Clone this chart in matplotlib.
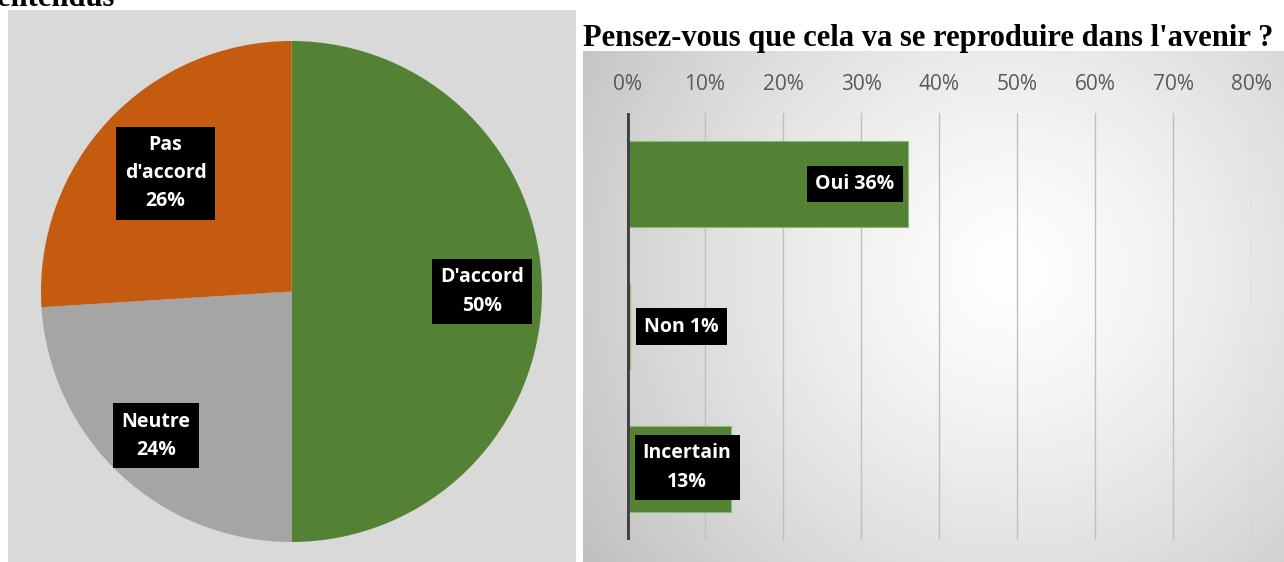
import numpy as np
import matplotlib.pyplot as plt

# données du camembert
pie_labels = ["D'accord", "Neutre", "Pas\nd'accord"]
pie_values = [50, 24, 26]
pie_colors = ["#548235", "#A5A5A5", "#C55A11"]

# données des barres
bar_labels = ["Oui", "Non", "Incertain"]
bar_values = [36.0, 0.4, 13.3]
bar_texts = ["36%", "1%", "13%"]
ticks = [0, 10, 20, 30, 40, 50, 60, 70, 80]

W, H = 1284, 562
fig = plt.figure(figsize=(W / 100, H / 100), dpi=100)
fig.patch.set_facecolor("white")


def rect(x0, y0, x1, y1):
    # pixels (origine en haut à gauche) -> fraction de figure
    return [x0 / W, 1 - y1 / H, (x1 - x0) / W, (y1 - y0) / H]


# fond gris du panneau gauche
bg = fig.add_axes(rect(8, 10, 576, 562))
bg.set_facecolor("#D9D9D9")
bg.set_xticks([])
bg.set_yticks([])
for s in bg.spines.values():
    s.set_visible(False)

# camembert
ax1 = fig.add_axes(rect(41, 41, 542, 542))
wedges, _ = ax1.pie(pie_values, colors=pie_colors, startangle=90,
                    counterclock=False, radius=1,
                    wedgeprops=dict(linewidth=0))
ax1.set_xlim(-1, 1)
ax1.set_ylim(-1, 1)
ax1.set_aspect("equal")

box = dict(boxstyle="square,pad=0.42", fc="black", ec="none")
txt = dict(color="white", fontsize=14, fontweight="bold", family="Open Sans",
           va="center", ha="center", zorder=5, linespacing=1.55)

# distance au centre des étiquettes (fraction du rayon)
lab_r = [0.76, 0.79, 0.69]
for w, lab, v, r in zip(wedges, pie_labels, pie_values, lab_r):
    ang = np.deg2rad((w.theta1 + w.theta2) / 2)
    ax1.text(r * np.cos(ang), r * np.sin(ang), f"{lab}\n{v}%",
             bbox=box, **txt)

# titre coupé en haut à gauche
fig.text(-3 / W, 1 - 6 / H, "entendus", ha="left", va="baseline",
         family="Liberation Serif", fontweight="bold", fontsize=22)

# fond dégradé du panneau droit
gx0, gy0, gx1, gy1 = 583, 51, 1284, 562
gax = fig.add_axes(rect(gx0, gy0, gx1, gy1))
xs = np.arange(gx0, gx1)
ys = np.arange(gy0, gy1)
X, Y = np.meshgrid(xs, ys)
d = np.sqrt((X - 1010) ** 2 + (Y - 270) ** 2) / 520
d = np.clip(d, 0, 1)
val = 1 - 0.25 * d ** 1.3
img = np.dstack([val, val, val])
gax.imshow(img, aspect="auto", interpolation="bilinear")
gax.set_axis_off()

# titre droit
fig.text(583 / W, 1 - 46 / H, "Pensez-vous que cela va se reproduire dans l'avenir ?",
         ha="left", va="baseline", family="Liberation Serif",
         fontweight="bold", fontsize=22)

# barres
ax2 = fig.add_axes(rect(627, 113, 1251, 540))
ax2.patch.set_alpha(0)
ypos = np.arange(len(bar_labels))
ax2.barh(ypos, bar_values, height=0.6, color="#548235",
         edgecolor="#8DB870", linewidth=0.8, zorder=3)
ax2.set_xlim(0, 80)
ax2.set_ylim(2.5, -0.5)
ax2.set_xticks(ticks)
ax2.set_xticklabels([f"{t}%" for t in ticks])
ax2.xaxis.tick_top()
ax2.tick_params(axis="x", length=0, pad=13, labelsize=15, labelcolor="#595959")
ax2.set_yticks([])
for lab in ax2.get_xticklabels():
    lab.set_family("Open Sans")
ax2.grid(axis="x", color="#BFBFBF", linewidth=1, zorder=0)
for s in ax2.spines.values():
    s.set_visible(False)
ax2.axvline(0, color="#404040", linewidth=3.5, zorder=4)

txt2 = dict(txt)
txt2.pop("ha")
ax2.text(34.3, 0, f"{bar_labels[0]} {bar_texts[0]}", ha="right", bbox=box, **txt2)
ax2.text(2.2, 1, f"{bar_labels[1]} {bar_texts[1]}", ha="left", bbox=box, **txt2)
ax2.text(7.7, 1.99, f"{bar_labels[2]}\n{bar_texts[2]}", ha="center", bbox=box, **txt2)

fig.savefig("out.png", dpi=100)
